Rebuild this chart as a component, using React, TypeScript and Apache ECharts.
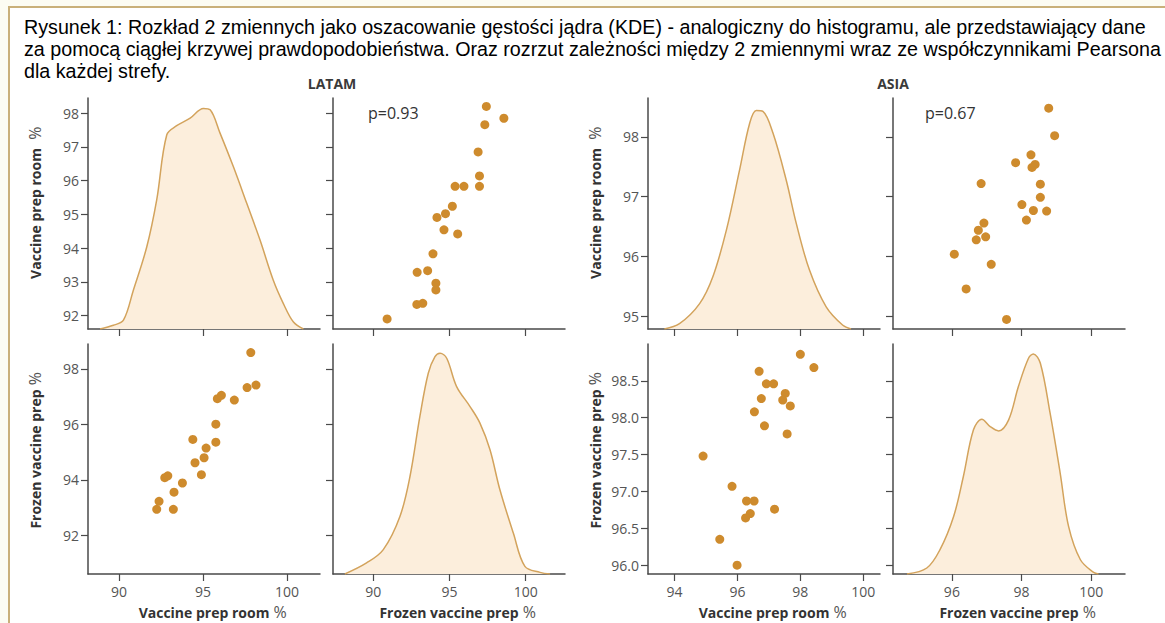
import { useEffect, useRef } from 'react';
import * as echarts from 'echarts';

// ---------- text ----------
const titleLines = [
  'Rysunek 1: Rozkład 2 zmiennych jako oszacowanie gęstości jądra (KDE) - analogiczny do histogramu, ale przedstawiający dane',
  'za pomocą ciągłej krzywej prawdopodobieństwa. Oraz rozrzut zależności między 2 zmiennymi wraz ze współczynnikami Pearsona',
  'dla każdej strefy.',
];
const regionNames = ['LATAM', 'ASIA'];
const pearsonLabels = ['p=0.93', 'p=0.67'];
const varVaccine = 'Vaccine prep room';
const varFrozen = 'Frozen vaccine prep';

// ---------- tick values ----------
const latamVaccineTicksX = [90, 95, 100];
const latamFrozenTicksX = [90, 95, 100];
const latamVaccineTicksY = [92, 93, 94, 95, 96, 97, 98];
const latamFrozenTicksY = [92, 94, 96, 98];
const asiaVaccineTicksX = [94, 96, 98, 100];
const asiaFrozenTicksX = [96, 98, 100];
const asiaVaccineTicksY = [95, 96, 97, 98];
const asiaFrozenTicksY = [96, 96.5, 97, 97.5, 98, 98.5];

// ---------- LATAM scatter (top-right: x = frozen, y = vaccine room) ----------
const latamTRFrozen = [97.42, 98.57, 97.32, 96.88, 96.97, 96.97, 95.37, 95.95, 95.19, 94.74, 94.18, 94.64, 95.54, 93.92, 92.88, 93.57, 94.11, 94.11, 92.86, 93.25, 90.91];
const latamTRVaccine = [98.2, 97.85, 97.66, 96.85, 96.14, 95.83, 95.83, 95.83, 95.24, 95.02, 94.91, 94.54, 94.42, 93.83, 93.28, 93.33, 92.96, 92.76, 92.33, 92.36, 91.9];
// ---------- LATAM scatter (bottom-left: x = vaccine room, y = frozen) ----------
const latamBLVaccine = [97.84, 98.15, 97.62, 96.86, 95.85, 96.09, 95.76, 95.76, 94.39, 95.18, 95.06, 94.52, 94.9, 92.72, 92.9, 93.77, 93.27, 92.38, 92.24, 93.23];
const latamBLFrozen = [98.59, 97.42, 97.33, 96.88, 96.93, 97.05, 96.01, 95.36, 95.46, 95.15, 94.8, 94.62, 94.19, 94.08, 94.15, 93.89, 93.56, 93.23, 92.94, 92.94];

// ---------- ASIA scatter (top-right: x = frozen, y = vaccine room) ----------
const asiaTRFrozen = [98.78, 98.95, 98.27, 97.83, 98.39, 98.3, 96.84, 98.54, 98.54, 98.01, 98.34, 98.72, 98.14, 96.92, 96.76, 96.97, 96.7, 96.07, 97.13, 96.41, 97.57];
const asiaTRVaccine = [98.48, 98.02, 97.7, 97.57, 97.54, 97.49, 97.22, 97.21, 96.99, 96.87, 96.77, 96.76, 96.61, 96.56, 96.44, 96.33, 96.28, 96.04, 95.87, 95.46, 94.95];
// ---------- ASIA scatter (bottom-left: x = vaccine room, y = frozen) ----------
const asiaBLVaccine = [98.0, 98.43, 96.69, 96.92, 97.15, 97.52, 97.44, 96.76, 97.68, 96.54, 96.86, 97.58, 94.91, 95.83, 96.29, 96.53, 96.41, 96.26, 97.18, 95.44, 95.99];
const asiaBLFrozen = [98.86, 98.68, 98.63, 98.46, 98.46, 98.33, 98.24, 98.26, 98.16, 98.08, 97.89, 97.78, 97.48, 97.07, 96.87, 96.87, 96.7, 96.64, 96.76, 96.35, 96.0];

// ---------- KDE curves (relative density) ----------
const latamVaccineKdeX = [88.87, 89.66, 90.26, 90.85, 91.65, 92.24, 92.84, 93.43, 94.23, 95.02, 95.42, 96.01, 96.8, 97.6, 98.39, 99.18, 99.78, 100.38, 100.97];
const latamVaccineKdeD = [0, 1.6, 3.8, 16.8, 35.6, 55.9, 84.1, 88.0, 91.3, 95.5, 94.9, 84.8, 70.3, 54.4, 38.5, 21.1, 11.0, 3.0, 0];
const latamFrozenKdeX = [88.14, 89.56, 90.66, 91.75, 92.41, 93.06, 93.61, 94.05, 94.38, 94.82, 95.47, 96.35, 97.0, 97.66, 98.31, 99.19, 99.95, 100.94, 101.6];
const latamFrozenKdeD = [0, 4.8, 10.6, 25, 42.4, 68.5, 87.3, 94.5, 96, 93.8, 81.5, 72.8, 65.6, 54, 36.6, 17.8, 3.3, 0.7, 0];
const asiaVaccineKdeX = [93.68, 94.16, 94.8, 95.22, 95.65, 96.07, 96.39, 96.6, 96.81, 97.13, 97.55, 97.87, 98.29, 98.82, 99.35, 99.61];
const asiaVaccineKdeD = [0, 2.3, 11, 22.6, 42.8, 68.9, 89.1, 94.6, 94.2, 84.8, 64.5, 45.7, 25.5, 9.6, 1.6, 0];
const asiaFrozenKdeX = [94.71, 95.28, 95.66, 96.05, 96.33, 96.62, 96.86, 97.1, 97.34, 97.63, 97.91, 98.2, 98.34, 98.54, 98.82, 99.11, 99.35, 99.69, 100.07, 100.21];
const asiaFrozenKdeD = [0, 2.6, 10.6, 25, 42.4, 62.7, 67.3, 64.1, 62.2, 67, 81.5, 93.8, 95.7, 91.6, 69.9, 43.8, 20.7, 6.2, 0.7, 0];

// ---------- styling ----------
const AXIS_COLOR = '#4a4a4a';
const LABEL_COLOR = '#555';
const DOT_COLOR = '#CE8B2D';
const KDE_LINE = '#D3A35C';
const KDE_FILL = '#FCEEDC';
const FONT = 'Open Sans';

const grids = [
  { left: 88, top: 98, width: 232, height: 231 },
  { left: 333, top: 98, width: 232, height: 231 },
  { left: 88, top: 344, width: 232, height: 230 },
  { left: 333, top: 344, width: 232, height: 230 },
  { left: 648, top: 98, width: 232, height: 231 },
  { left: 893, top: 98, width: 232, height: 231 },
  { left: 648, top: 344, width: 232, height: 230 },
  { left: 893, top: 344, width: 232, height: 230 },
];

const richName = {
  b: { fontFamily: FONT, fontWeight: 'bold', fontSize: 14, color: '#333' },
  p: { fontFamily: FONT, fontSize: 16, color: LABEL_COLOR },
  h: { fontFamily: FONT, fontSize: 16, color: 'rgba(0,0,0,0)' },
};
const axisName = (t: string, gap: string) => `{h|%${gap}}{b|${t}}{p|${gap}%}`;

function makeAxis(
  kind: 'x' | 'y',
  gridIndex: number,
  min: number,
  max: number,
  ticks: number[],
  showLabel: boolean,
  name?: string,
  fmt?: (v: number) => string
) {
  const ax: any = {
    type: 'value',
    gridIndex,
    min,
    max,
    splitLine: { show: false },
    axisLine: { show: true, onZero: false, lineStyle: { color: AXIS_COLOR, width: 1.5 } },
    axisTick: { show: true, length: 7, customValues: ticks, lineStyle: { color: AXIS_COLOR, width: 1.2 } },
    axisLabel: {
      show: showLabel,
      customValues: ticks,
      color: LABEL_COLOR,
      fontFamily: FONT,
      fontSize: 14,
      margin: kind === 'x' ? 10 : 9,
      formatter: fmt ? (v: number) => fmt(v) : (v: number) => String(v),
    },
  };
  if (name) {
    ax.name = name;
    ax.nameLocation = 'middle';
    ax.nameTextStyle = { rich: richName };
    if (kind === 'x') {
      ax.nameGap = 30;
    } else {
      ax.nameRotate = 90;
      ax.nameGap = 45;
    }
  }
  return ax;
}

const zip = (a: number[], b: number[]) => a.map((v, i) => [v, b[i]]);

function kdeSeries(xi: number, yi: number, xs: number[], ds: number[]) {
  return {
    type: 'line',
    xAxisIndex: xi,
    yAxisIndex: yi,
    data: zip(xs, ds),
    smooth: 0.35,
    symbol: 'none',
    lineStyle: { color: KDE_LINE, width: 1.5 },
    areaStyle: { color: KDE_FILL, opacity: 1 },
    silent: true,
  };
}
function scatterSeries(xi: number, yi: number, xs: number[], ys: number[]) {
  return {
    type: 'scatter',
    xAxisIndex: xi,
    yAxisIndex: yi,
    data: zip(xs, ys),
    symbolSize: 9,
    itemStyle: { color: DOT_COLOR, opacity: 1 },
    silent: true,
  };
}

export default function App() {
  const ref = useRef<HTMLDivElement>(null);
  useEffect(() => {
    if (!ref.current) return;
    const chart = echarts.init(ref.current, undefined, { renderer: 'svg' });
    const fmt1 = (v: number) => v.toFixed(1);
    const headerStyle = { fontFamily: FONT, fontWeight: 'bold', fontSize: 14, fill: '#3a3a3a', textAlign: 'center', textVerticalAlign: 'middle' };
    const pStyle = { fontFamily: FONT, fontSize: 16, fill: '#333', textAlign: 'left', textVerticalAlign: 'middle' };
    const option: any = {
      animation: false,
      backgroundColor: 'transparent',
      title: {
        text: titleLines.join('\n'),
        left: 19,
        top: 11,
        textStyle: { fontFamily: 'Liberation Sans', fontSize: 19.7, fontWeight: 'normal', color: '#000', lineHeight: 22 },
      },
      grid: grids.map((g) => ({ ...g, containLabel: false })),
      xAxis: [
        makeAxis('x', 0, 88.15, 101.96, latamVaccineTicksX, false),
        makeAxis('x', 1, 87.36, 102.58, latamFrozenTicksX, false),
        makeAxis('x', 2, 88.15, 101.96, latamVaccineTicksX, true, axisName(varVaccine, ' ')),
        makeAxis('x', 3, 87.36, 102.58, latamFrozenTicksX, true, axisName(varFrozen, ' ')),
        makeAxis('x', 4, 93.16, 100.53, asiaVaccineTicksX, false),
        makeAxis('x', 5, 94.31, 100.97, asiaFrozenTicksX, false),
        makeAxis('x', 6, 93.16, 100.53, asiaVaccineTicksX, true, axisName(varVaccine, ' ')),
        makeAxis('x', 7, 94.31, 100.97, asiaFrozenTicksX, true, axisName(varFrozen, ' ')),
      ],
      yAxis: [
        makeAxis('y', 0, 91.6, 98.45, latamVaccineTicksY, true, axisName(varVaccine, '  ')),
        makeAxis('y', 1, 91.6, 98.45, latamVaccineTicksY, false),
        makeAxis('y', 2, 90.61, 98.9, latamFrozenTicksY, true, axisName(varFrozen, ' ')),
        makeAxis('y', 3, 90.61, 98.9, latamFrozenTicksY, false),
        makeAxis('y', 4, 94.79, 98.65, asiaVaccineTicksY, true, axisName(varVaccine, '  ')),
        makeAxis('y', 5, 94.79, 98.65, asiaVaccineTicksY, false),
        makeAxis('y', 6, 95.88, 99.0, asiaFrozenTicksY, true, axisName(varFrozen, ' '), fmt1),
        makeAxis('y', 7, 95.88, 99.0, asiaFrozenTicksY, false),
        { type: 'value', gridIndex: 0, min: 0, max: 100, show: false },
        { type: 'value', gridIndex: 3, min: 0, max: 100, show: false },
        { type: 'value', gridIndex: 4, min: 0, max: 100, show: false },
        { type: 'value', gridIndex: 7, min: 0, max: 100, show: false },
      ],
      series: [
        kdeSeries(0, 8, latamVaccineKdeX, latamVaccineKdeD),
        scatterSeries(1, 1, latamTRFrozen, latamTRVaccine),
        scatterSeries(2, 2, latamBLVaccine, latamBLFrozen),
        kdeSeries(3, 9, latamFrozenKdeX, latamFrozenKdeD),
        kdeSeries(4, 10, asiaVaccineKdeX, asiaVaccineKdeD),
        scatterSeries(5, 5, asiaTRFrozen, asiaTRVaccine),
        scatterSeries(6, 6, asiaBLVaccine, asiaBLFrozen),
        kdeSeries(7, 11, asiaFrozenKdeX, asiaFrozenKdeD),
      ],
      graphic: [
        { type: 'text', x: 332, y: 83, style: { ...headerStyle, text: regionNames[0] } },
        { type: 'text', x: 893, y: 83, style: { ...headerStyle, text: regionNames[1] } },
        { type: 'text', x: 368, y: 113, style: { ...pStyle, text: pearsonLabels[0] } },
        { type: 'text', x: 925, y: 113, style: { ...pStyle, text: pearsonLabels[1] } },
      ],
    };
    chart.setOption(option);
    return () => chart.dispose();
  }, []);

  return (
    <div style={{ position: 'absolute', left: 0, top: 0, width: 1165, height: 623, background: '#FCFCF3', overflow: 'hidden' }}>
      <div
        style={{
          position: 'absolute', left: 8, top: 6, width: 1170, height: 630,
          borderLeft: '2px solid #C9B07A', borderTop: '2px solid #C9B07A', background: '#fff', boxSizing: 'border-box',
        }}
      />
      <div ref={ref} style={{ position: 'absolute', left: 0, top: 0, width: 1165, height: 623 }} />
    </div>
  );
}
